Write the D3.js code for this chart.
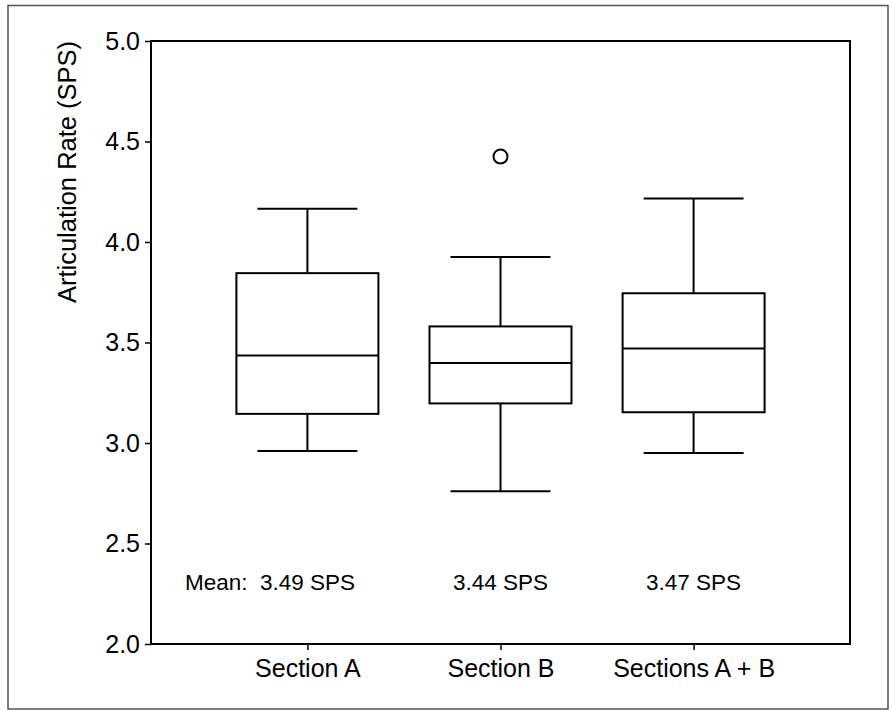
<!DOCTYPE html>
<html>
<head>
<meta charset="utf-8">
<script src="https://cdn.jsdelivr.net/npm/d3@7"></script>
<style>
  body { margin: 0; background: #fff; }
  text { font-family: "Liberation Sans", Arial, sans-serif; fill: #000; }
</style>
</head>
<body>
<script>
// data
var categories = ["Section A", "Section B", "Sections A + B"];
var whiskerLow = [2.96, 2.76, 2.95];
var q1 = [3.145, 3.197, 3.153];
var medians = [3.435, 3.398, 3.47];
var q3 = [3.845, 3.58, 3.745];
var whiskerHigh = [4.165, 3.925, 4.217];
var outliers = [[], [4.425], []];
var meanLabels = ["Mean:  3.49 SPS", "3.44 SPS", "3.47 SPS"];
var yTicks = [2.0, 2.5, 3.0, 3.5, 4.0, 4.5, 5.0];

var width = 892, height = 718;
var plot = { left: 151, right: 850, top: 41, bottom: 644 };
var boxW = 142, capW = 100;

var svg = d3.select("body").append("svg")
    .attr("width", width)
    .attr("height", height);

// outer frame
svg.append("rect")
    .attr("x", 8).attr("y", 5.5)
    .attr("width", 880).attr("height", 703.5)
    .attr("fill", "none")
    .attr("stroke", "#555")
    .attr("stroke-width", 1.5);

var x = d3.scalePoint()
    .domain(categories)
    .range([plot.left, plot.right])
    .padding(0.81);
var y = d3.scaleLinear()
    .domain([2, 5])
    .range([plot.bottom, plot.top]);

// plot border
svg.append("rect")
    .attr("x", plot.left).attr("y", plot.top)
    .attr("width", plot.right - plot.left)
    .attr("height", plot.bottom - plot.top)
    .attr("fill", "none")
    .attr("stroke", "#000")
    .attr("stroke-width", 2);

var yAxis = svg.append("g")
    .attr("transform", "translate(" + plot.left + ",0)")
    .call(d3.axisLeft(y).tickValues(yTicks).tickFormat(d3.format(".1f")).tickSize(6).tickPadding(5));
yAxis.select(".domain").remove();
yAxis.selectAll("line").attr("stroke-width", 1.5);
yAxis.selectAll("text").attr("font-size", "25px").attr("font-family", "Liberation Sans, Arial, sans-serif");

var xAxis = svg.append("g")
    .attr("transform", "translate(0," + plot.bottom + ")")
    .call(d3.axisBottom(x).tickSize(6).tickPadding(9));
xAxis.select(".domain").remove();
xAxis.selectAll("line").attr("stroke-width", 1.5);
xAxis.selectAll("text").attr("font-size", "25px").attr("font-family", "Liberation Sans, Arial, sans-serif");

// y title
svg.append("text")
    .attr("transform", "translate(76,172) rotate(-90)")
    .attr("text-anchor", "middle")
    .attr("font-size", "25.5px")
    .text("Articulation Rate (SPS)");

var g = svg.append("g")
    .attr("fill", "none")
    .attr("stroke", "#000")
    .attr("stroke-width", 2);

categories.forEach(function (c, i) {
    var cx = x(c);
    // whiskers
    g.append("line").attr("x1", cx).attr("x2", cx).attr("y1", y(q3[i])).attr("y2", y(whiskerHigh[i]));
    g.append("line").attr("x1", cx).attr("x2", cx).attr("y1", y(q1[i])).attr("y2", y(whiskerLow[i]));
    g.append("line").attr("x1", cx - capW / 2).attr("x2", cx + capW / 2).attr("y1", y(whiskerHigh[i])).attr("y2", y(whiskerHigh[i]));
    g.append("line").attr("x1", cx - capW / 2).attr("x2", cx + capW / 2).attr("y1", y(whiskerLow[i])).attr("y2", y(whiskerLow[i]));
    // box
    g.append("rect")
        .attr("x", cx - boxW / 2)
        .attr("y", y(q3[i]))
        .attr("width", boxW)
        .attr("height", y(q1[i]) - y(q3[i]));
    g.append("line").attr("x1", cx - boxW / 2).attr("x2", cx + boxW / 2).attr("y1", y(medians[i])).attr("y2", y(medians[i]));
    outliers[i].forEach(function (v) {
        g.append("circle").attr("cx", cx).attr("cy", y(v)).attr("r", 7);
    });
});

// mean labels
svg.selectAll(".mean")
    .data(meanLabels)
    .enter()
    .append("text")
    .attr("class", "mean")
    .attr("x", function (d, i) {
    return i === 0 ? 185 : x(categories[i]);
})
    .attr("y", 590)
    .attr("text-anchor", function (d, i) {
    return i === 0 ? "start" : "middle";
})
    .attr("font-size", "22.5px")
    .attr("xml:space", "preserve")
    .style("white-space", "pre")
    .text(function (d) {
    return d;
});
</script>
</body>
</html>
